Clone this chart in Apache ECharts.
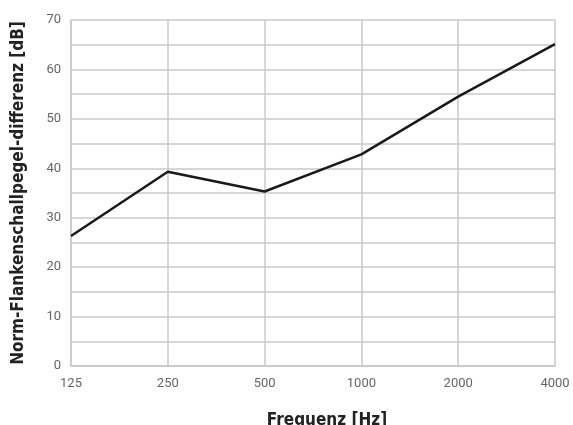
<!DOCTYPE html>
<html><head><meta charset="utf-8">
<script src="https://cdn.jsdelivr.net/npm/echarts@6/dist/echarts.min.js"></script>
<style>html,body{margin:0;padding:0;background:#fff}#c{width:573px;height:425px}</style>
</head><body><div id="c"></div>
<script>
const categories = ['125','250','500','1000','2000','4000'];
const values = [26.3, 39.3, 35.3, 42.8, 54.5, 65.1];
const chart = echarts.init(document.getElementById('c'));
chart.setOption({
  animation:false,
  grid:{left:71,right:18,top:20,bottom:59,outerBoundsMode:'none',containLabel:false},
  xAxis:{type:'category',data:categories,boundaryGap:false,
    name:'Frequenz [Hz]',nameLocation:'middle',nameGap:46,
    nameTextStyle:{fontFamily:'DejaVu Sans Condensed',fontWeight:'bold',fontSize:17,color:'#222',padding:[0,0,0,28]},
    axisLine:{lineStyle:{color:'#c8c8c8',width:1.5}},axisTick:{show:false},
    axisLabel:{fontFamily:'Roboto',fontSize:13,color:'#666',margin:11},
    splitLine:{show:true,lineStyle:{color:'#c8c8c8',width:1.5}}},
  yAxis:{type:'value',min:0,max:70,interval:5,
    name:'Norm-Flankenschallpegel-differenz [dB]',nameLocation:'middle',nameGap:44,
    nameTextStyle:{fontFamily:'DejaVu Sans Condensed',fontWeight:'bold',fontSize:17,color:'#222'},
    axisLine:{show:true,lineStyle:{color:'#c8c8c8',width:1.5}},axisTick:{show:false},
    axisLabel:{fontFamily:'Roboto',fontSize:13,color:'#666',margin:10,
      formatter:v=>v%10===0?String(v):''},
    splitLine:{lineStyle:{color:'#c8c8c8',width:1.5}}},
  series:[{type:'line',data:values,symbol:'none',lineStyle:{color:'#1a1a1a',width:2.5}}]
});
</script></body></html>
